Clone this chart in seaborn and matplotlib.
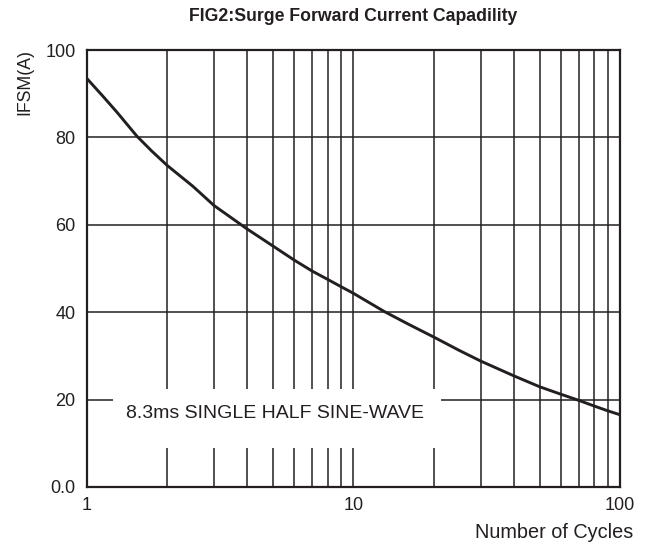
import numpy as np
import pandas as pd
import matplotlib
matplotlib.use('Agg')
import matplotlib.pyplot as plt
import seaborn as sns

# curve (log x axis)
cycles = [1, 1.15, 1.3, 1.54, 1.75, 2, 2.5, 3, 4, 5, 6, 7, 8, 9, 10,
          13, 16, 20, 25, 30, 40, 50, 60, 70, 80, 90, 100]
ifsm = [93.5, 89.4, 85.7, 80.3, 76.9, 73.6, 68.8, 64.4, 59.0, 55.1, 51.9, 49.4, 47.5, 45.8, 44.3,
        40.2, 37.3, 34.3, 31.2, 28.8, 25.4, 22.9, 21.2, 19.8, 18.5, 17.4, 16.5]
y_ticks = [0, 20, 40, 60, 80, 100]
y_labels = ['0.0', '20', '40', '60', '80', '100']
x_grid = [2, 3, 4, 5, 6, 7, 8, 9, 10, 20, 30, 40, 50, 60, 70, 80, 90]
note = '8.3ms SINGLE HALF SINE-WAVE'

sns.set_theme(style='white')
plt.rcParams['font.family'] = ['Liberation Sans', 'DejaVu Sans']
ink = '#231f20'

fig = plt.figure(figsize=(6.48, 5.44), dpi=100)
ax = fig.add_axes([0.134, 0.105, 0.823, 0.803])

df = pd.DataFrame({'cycles': cycles, 'ifsm': ifsm})
ax.set_xscale('log')
ax.set_xlim(1, 100)
ax.set_ylim(0, 100)

# grid lines
for gx in x_grid:
    ax.axvline(gx, color=ink, lw=1.1, zorder=1)
for gy in y_ticks[1:-1]:
    ax.axhline(gy, color=ink, lw=1.1, zorder=1)

sns.lineplot(data=df, x='cycles', y='ifsm', ax=ax, color=ink, lw=2.1, zorder=4,
             solid_joinstyle='round', solid_capstyle='butt')

# white label box over the grid
ax.fill_between([1.25, 21.2], 9.0, 22.4, color='white', lw=0, zorder=2)
ax.text(5.07, 16.9, note, ha='center', va='center', fontsize=14, color=ink, zorder=3)

ax.set_yticks(y_ticks)
ax.set_yticklabels(y_labels)
ax.set_xticks([1, 10, 100])
ax.set_xticklabels(['1', '10', '100'])
ax.minorticks_off()
ax.tick_params(axis='both', length=0, labelsize=13, colors=ink)
ax.tick_params(axis='x', pad=7)
ax.tick_params(axis='y', pad=8)

for s in ax.spines.values():
    s.set_color(ink)
    s.set_linewidth(1.6)
    s.set_zorder(5)

ax.set_xlabel('')
ax.set_ylabel('')
fig.text(0.977, 0.022, 'Number of Cycles', ha='right', va='center', fontsize=14.3, color=ink)
fig.text(0.039, 0.850, 'IFSM(A)', rotation=90, ha='center', va='center', fontsize=12.7, color=ink)
ax.set_title('FIG2:Surge Forward Current Capadility', fontsize=12.7, fontweight='bold',
             color=ink, pad=21)

fig.savefig('out.png', dpi=100)
